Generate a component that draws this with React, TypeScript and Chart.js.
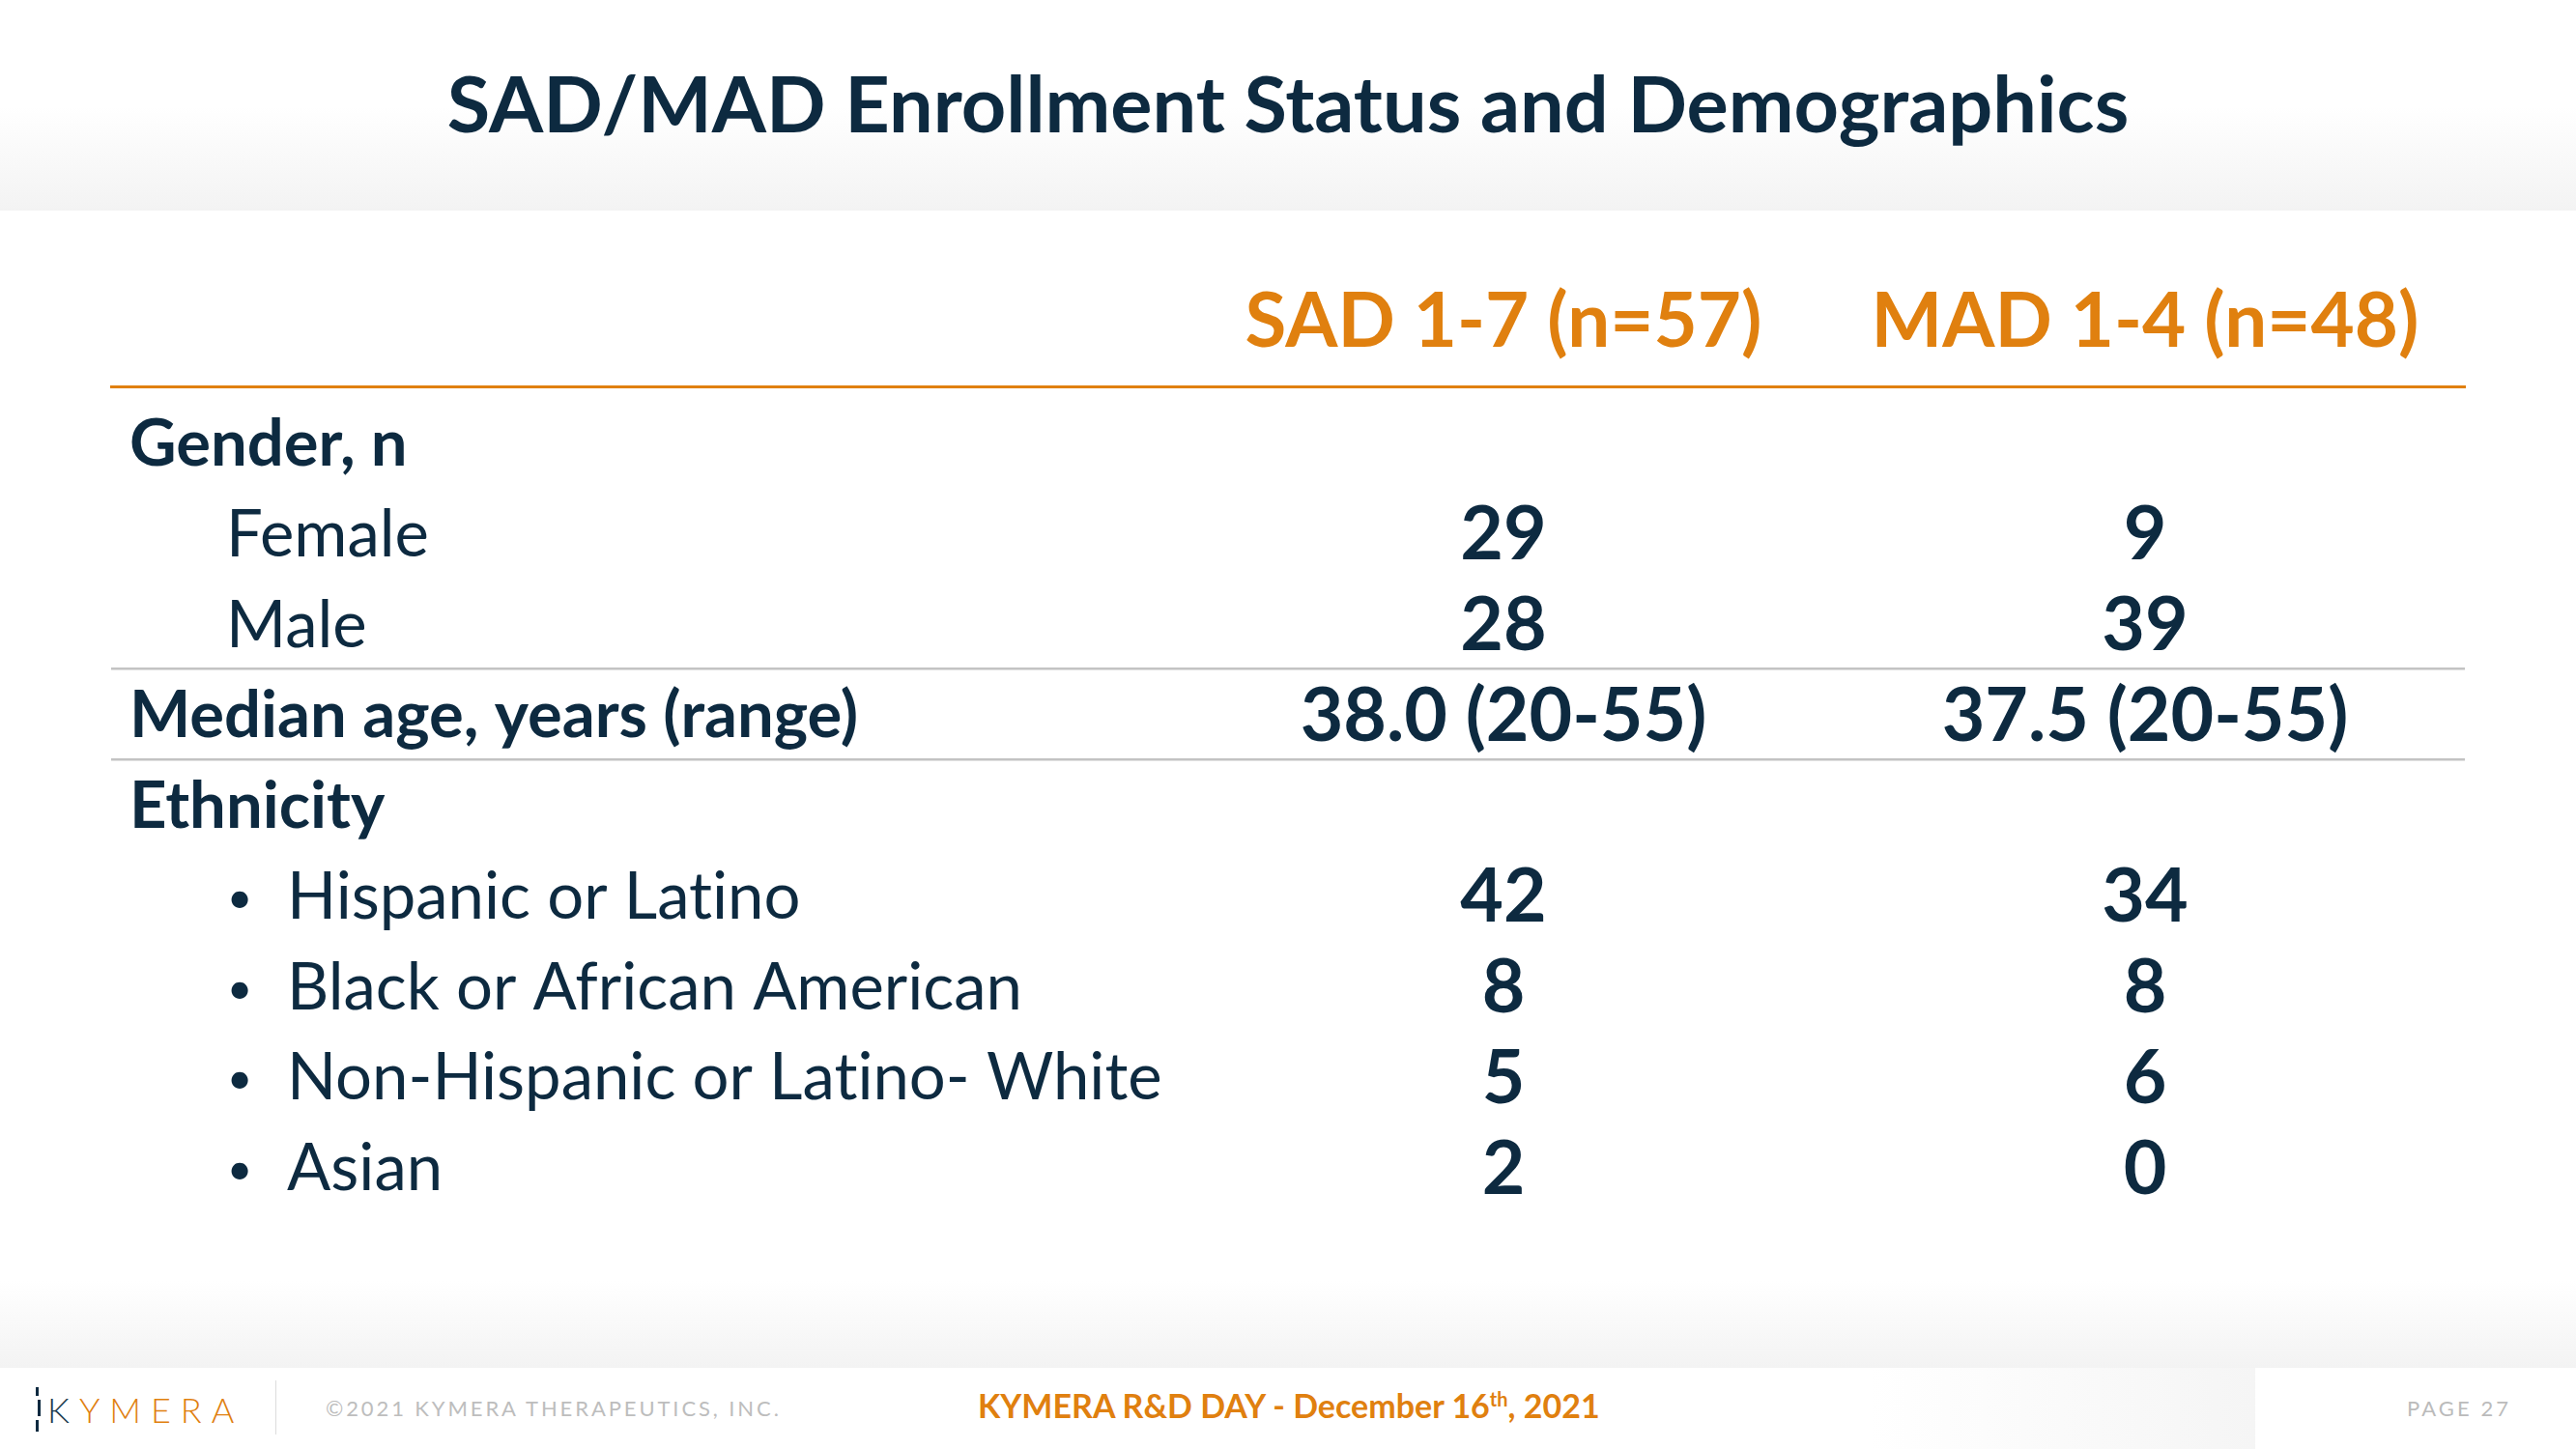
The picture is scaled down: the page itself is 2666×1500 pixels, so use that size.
import React, { useEffect, useRef } from 'react';
import { Chart, registerables } from 'chart.js';

Chart.register(...registerables);

// ---------- data ----------
const slideTitle = 'SAD/MAD Enrollment Status and Demographics';
const columnHeaders = ['SAD 1-7 (n=57)', 'MAD 1-4 (n=48)'];
const rowLabels = [
  'Gender, n',
  'Female',
  'Male',
  'Median age, years (range)',
  'Ethnicity',
  'Hispanic or Latino',
  'Black or African American',
  'Non-Hispanic or Latino- White',
  'Asian',
];
const rowStyles = ['group', 'item', 'item', 'group', 'group', 'bullet', 'bullet', 'bullet', 'bullet'];
const sadValues: (number | string | null)[] = [null, 29, 28, '38.0 (20-55)', null, 42, 8, 5, 2];
const madValues: (number | string | null)[] = [null, 9, 39, '37.5 (20-55)', null, 34, 8, 6, 0];
const separatorPositions = [2.5, 3.5];
const footerCopyright = '©2021 KYMERA THERAPEUTICS, INC.';
const footerEventMain = 'KYMERA R&D DAY - December 16';
const footerEventSup = 'th';
const footerEventEnd = ', 2021';
const pageLabel = 'PAGE 27';

// ---------- style ----------
const NAVY = '#0d2a40';
const ORANGE = '#e0800f';
const FONT = 'Lato, "Open Sans", sans-serif';
const CAP = 0.7165;
const LABEL_FS = 67;
const BULLET_FS = 46;
const VALUE_FS = 77;
const HEADER_FS = 78;

const valueSeries = [sadValues, madValues];

function Txt(props: {
  x: number; baseline: number; size: number; weight?: number; color: string;
  spacing?: number; align?: 'left' | 'center'; children: React.ReactNode;
}) {
  const { x, baseline, size, weight = 400, color, spacing = 0, align = 'left', children } = props;
  const style: React.CSSProperties = {
    position: 'absolute',
    top: baseline - 0.887 * size,
    left: align === 'center' ? 0 : x,
    width: align === 'center' ? 2666 : undefined,
    textAlign: align,
    fontFamily: FONT,
    fontSize: size,
    fontWeight: weight,
    lineHeight: `${size}px`,
    color,
    letterSpacing: spacing,
    whiteSpace: 'nowrap',
    fontVariantLigatures: 'none',
  };
  return <div style={style}>{children}</div>;
}

const tablePlugin = {
  id: 'tableText',
  afterDatasetsDraw(chart: any) {
    const { ctx, chartArea, scales } = chart;
    const xs = scales.x;
    const ys = scales.y;
    ctx.save();
    ctx.textBaseline = 'alphabetic';
    try { ctx.textRendering = 'optimizeSpeed'; } catch (e) { /* ignore */ }

    // column headers
    ctx.fillStyle = ORANGE;
    ctx.font = `700 ${HEADER_FS}px ${FONT}`;
    ctx.textAlign = 'center';
    columnHeaders.forEach((h, i) => {
      ctx.fillText(h, xs.getPixelForValue(i + 1), chartArea.top - 41);
    });

    // row labels
    ctx.fillStyle = NAVY;
    rowLabels.forEach((label, r) => {
      const kind = rowStyles[r];
      const yc = ys.getPixelForValue(r);
      const base = yc + (LABEL_FS * CAP) / 2;
      if (kind === 'group') {
        ctx.font = `700 ${LABEL_FS}px ${FONT}`;
        ctx.textAlign = 'left';
        ctx.fillText(label, chartArea.left + 19, base);
      } else if (kind === 'item') {
        ctx.font = `400 ${LABEL_FS}px ${FONT}`;
        ctx.textAlign = 'left';
        ctx.fillText(label, chartArea.left + 119, base);
      } else {
        ctx.font = `400 ${BULLET_FS}px ${FONT}`;
        ctx.textAlign = 'center';
        ctx.fillText('•', chartArea.left + 133, yc + 18);
        ctx.font = `400 ${LABEL_FS}px ${FONT}`;
        ctx.textAlign = 'left';
        ctx.fillText(label, chartArea.left + 182, base);
      }
    });

    // cell values, placed at the dataset elements
    ctx.font = `700 ${VALUE_FS}px ${FONT}`;
    ctx.textAlign = 'center';
    chart.data.datasets.forEach((ds: any, di: number) => {
      const meta = chart.getDatasetMeta(di);
      meta.data.forEach((el: any, j: number) => {
        const raw = ds.data[j];
        ctx.fillText(String(raw.text), el.x, el.y + (VALUE_FS * CAP) / 2);
      });
    });
    ctx.restore();
  },
};

export default function App() {
  const canvasRef = useRef<HTMLCanvasElement | null>(null);

  useEffect(() => {
    const canvas = canvasRef.current;
    if (!canvas) return;
    const datasets = valueSeries.map((vals, c) => ({
      label: columnHeaders[c],
      data: vals
        .map((v, r) => (v === null ? null : { x: c + 1, y: r, text: v }))
        .filter((p) => p !== null) as any[],
      pointRadius: 0,
      pointHoverRadius: 0,
      showLine: false,
    }));
    const chart = new Chart(canvas, {
      type: 'scatter',
      data: { datasets },
      options: {
        animation: false,
        responsive: false,
        devicePixelRatio: 1,
        events: [],
        layout: { padding: { left: 115, right: 115, top: 400, bottom: 245 } },
        plugins: {
          legend: { display: false },
          tooltip: { enabled: false },
          title: { display: false },
        },
        scales: {
          x: {
            type: 'linear',
            position: 'top',
            min: -1.1702,
            max: 2.4985,
            grid: { display: false, drawTicks: false },
            ticks: { display: false },
            border: { display: true, color: ORANGE, width: 3 },
          },
          y: {
            type: 'linear',
            reverse: true,
            min: -0.62,
            max: 8.5,
            grid: { color: '#c3c3c3', lineWidth: 2.5, drawTicks: false },
            ticks: { display: false },
            border: { display: false },
            afterBuildTicks: (scale: any) => {
              scale.ticks = separatorPositions.map((v) => ({ value: v }));
            },
          },
        },
      } as any,
      plugins: [tablePlugin],
    });
    return () => chart.destroy();
  }, []);

  return (
    <div
      style={{
        position: 'absolute',
        left: 0,
        top: 0,
        width: 2666,
        height: 1500,
        overflow: 'hidden',
        background: '#ffffff',
        fontFamily: FONT,
      }}
    >
      {/* header band */}
      <div
        style={{
          position: 'absolute', left: 0, top: 0, width: 2666, height: 218,
          background: 'linear-gradient(to bottom, #ffffff 0px, #ffffff 110px, #f3f3f3 218px)',
        }}
      />
      <Txt x={0} baseline={137} size={81} weight={700} color={NAVY} align="center">{slideTitle}</Txt>

      {/* footer band */}
      <div
        style={{
          position: 'absolute', left: 0, top: 1326, width: 2666, height: 90,
          background: 'linear-gradient(to bottom, #ffffff 0px, #f3f3f3 90px)',
        }}
      />
      <div
        style={{
          position: 'absolute', left: 1935, top: 1416, width: 399, height: 84,
          background: 'linear-gradient(to right, #ffffff, #f5f5f5)',
        }}
      />
      {/* logo */}
      <div style={{ position: 'absolute', left: 37, top: 1436, width: 3, height: 9, background: NAVY }} />
      <div style={{ position: 'absolute', left: 39, top: 1449, width: 3, height: 17, background: NAVY }} />
      <div style={{ position: 'absolute', left: 37, top: 1470, width: 3, height: 12, background: NAVY }} />
      <Txt x={49} baseline={1473} size={36} weight={300} color={ORANGE} spacing={10}>
        <span style={{ color: '#1b3a4e' }}>K</span>YMERA
      </Txt>
      <div style={{ position: 'absolute', left: 285, top: 1429, width: 1, height: 56, background: '#dddddd' }} />
      <Txt x={337} baseline={1467} size={22} weight={400} color="#bdbdbd" spacing={2.9}>{footerCopyright}</Txt>
      <Txt x={1012} baseline={1468} size={34} weight={700} color={ORANGE}>
        {footerEventMain}
        <sup style={{ fontSize: 20, lineHeight: 0 }}>{footerEventSup}</sup>
        {footerEventEnd}
      </Txt>
      <Txt x={2491} baseline={1467} size={22} weight={400} color="#bbbbbb" spacing={3.1}>{pageLabel}</Txt>

      <canvas
        ref={canvasRef}
        width={2666}
        height={1500}
        style={{ position: 'absolute', left: 0, top: 0, width: 2666, height: 1500, display: 'block' }}
      />
    </div>
  );
}
